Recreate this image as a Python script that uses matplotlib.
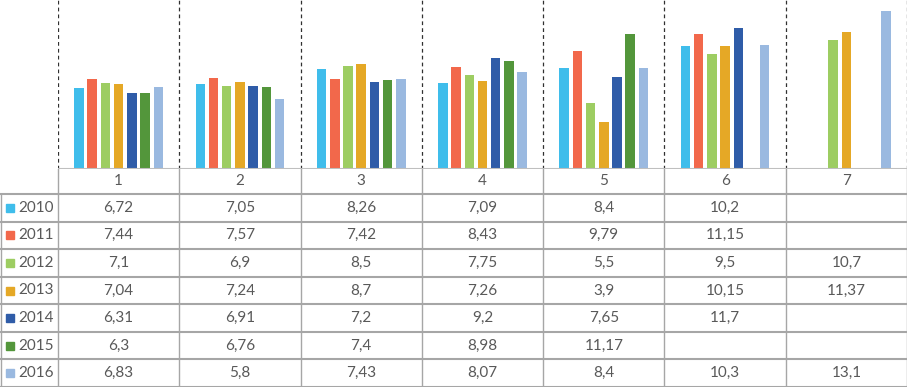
import numpy as np
import matplotlib.pyplot as plt
from matplotlib.patches import Rectangle

# data
categories = ['1', '2', '3', '4', '5', '6', '7']
years = ['2010', '2011', '2012', '2013', '2014', '2015', '2016']
nan = np.nan
v2010 = [6.72, 7.05, 8.26, 7.09, 8.4, 10.2, nan]
v2011 = [7.44, 7.57, 7.42, 8.43, 9.79, 11.15, nan]
v2012 = [7.1, 6.9, 8.5, 7.75, 5.5, 9.5, 10.7]
v2013 = [7.04, 7.24, 8.7, 7.26, 3.9, 10.15, 11.37]
v2014 = [6.31, 6.91, 7.2, 9.2, 7.65, 11.7, nan]
v2015 = [6.3, 6.76, 7.4, 8.98, 11.17, nan, nan]
v2016 = [6.83, 5.8, 7.43, 8.07, 8.4, 10.3, 13.1]
series = [v2010, v2011, v2012, v2013, v2014, v2015, v2016]
colors = ['#3FBDEB', '#F2684B', '#9DCD62', '#E5A826', '#2F5CA8', '#53963B', '#9AB9E0']

W, H = 907, 387
fig = plt.figure(figsize=(W / 100, H / 100), dpi=100)
plt.rcParams['font.family'] = ['Lato', 'DejaVu Sans']

left, base = 58, 169
ax = fig.add_axes([left / W, (H - base) / H, (W - left) / W, base / H])
n = len(categories)
slot = 0.109
bw = 0.078
x = np.arange(n)
for j, vals in enumerate(series):
    for i, v in enumerate(vals):
        if np.isnan(v):
            continue
        ax.bar(x[i] + (j - 3) * slot, v, width=bw, color=colors[j], zorder=2)
ax.set_xlim(-0.5, n - 0.5)
ax.set_ylim(0, 14)
ax.axis('off')
for k in range(n + 1):
    ax.axvline(k - 0.5, color='#303030', lw=0.9, ls=(0, (3, 2.5)), zorder=1)
ax.axhline(0, color='#BFBFBF', lw=1.5, zorder=3)

# table below in pixel coordinates
tb = fig.add_axes([0, 0, 1, (H - base) / H])
tb.set_xlim(0, W)
tb.set_ylim(H, base)
tb.axis('off')
colw = (W - left) / n
rows_top = 194
rowh = (H - rows_top) / len(years)
grid = '#A6A6A6'
txt = '#595959'

for k in range(n + 1):
    tb.plot([left + k * colw] * 2, [base, H], color=grid, lw=1)
tb.plot([1, 1], [rows_top, H], color=grid, lw=1)
for r in range(len(years) + 1):
    tb.plot([0, W], [rows_top + r * rowh] * 2, color=grid, lw=1.5)

for i, c in enumerate(categories):
    tb.text(left + (i + 0.5) * colw, (base + rows_top) / 2, c, ha='center', va='center',
            fontsize=11, color=txt)

for r, (yr, vals) in enumerate(zip(years, series)):
    yc = rows_top + (r + 0.5) * rowh
    tb.add_patch(Rectangle((6, yc - 4), 8, 8, color=colors[r]))
    tb.text(18, yc, yr, ha='left', va='center', fontsize=11, color=txt)
    for i, v in enumerate(vals):
        if np.isnan(v):
            continue
        tb.text(left + (i + 0.5) * colw, yc, str(v).replace('.', ','), ha='center',
                va='center', fontsize=11, color=txt)

fig.savefig('out.png', dpi=100)
